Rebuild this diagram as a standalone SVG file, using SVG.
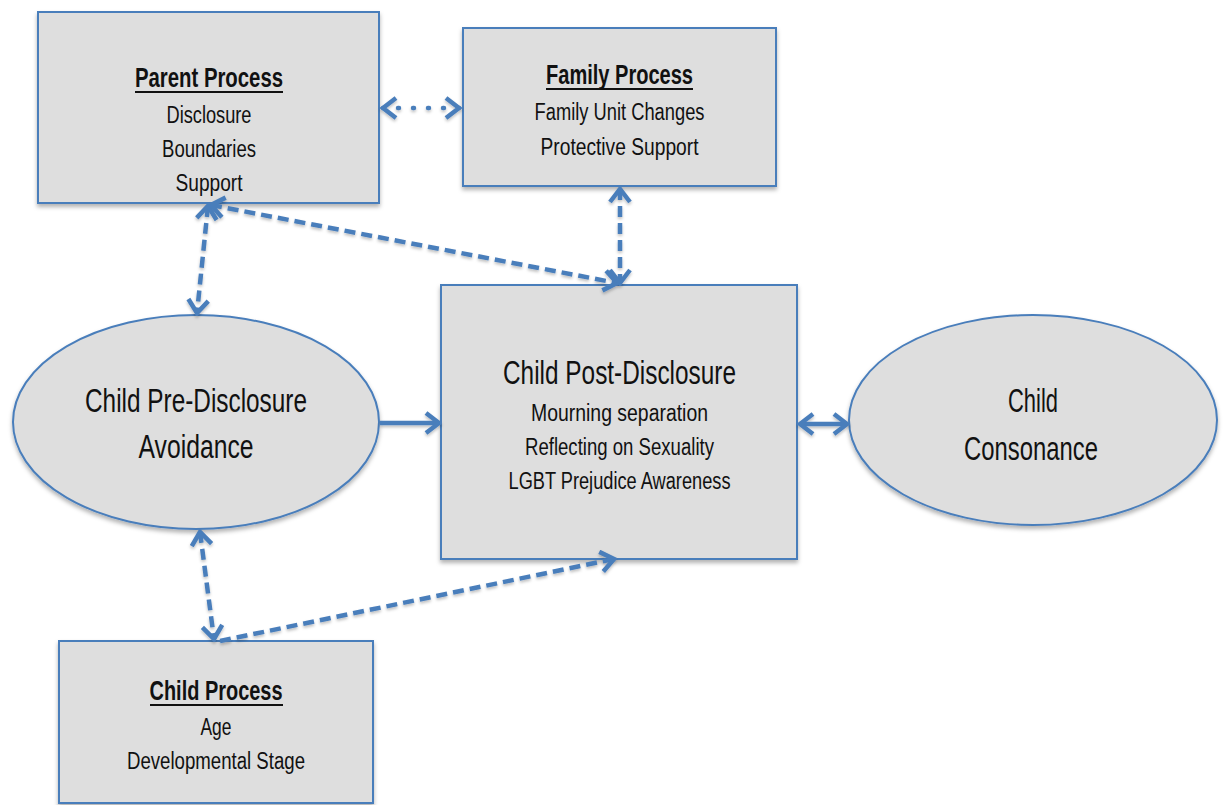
<svg xmlns="http://www.w3.org/2000/svg" width="1223" height="805" viewBox="0 0 1223 805">
<style>
.node{fill:#dedede;stroke:#4a7ebb;stroke-width:2;filter:url(#sh)}
.t{font-family:"Liberation Sans",Arial,sans-serif;fill:#111;text-anchor:middle}
.h{font-size:27px;font-weight:bold}
.i{font-size:23px}
.b{font-size:33px}
.ul{stroke:#111;stroke-width:1.8}
.c{fill:none;stroke:#4a7ebb;stroke-width:4.5}
.dash{stroke-dasharray:11 6}
.dot{stroke-dasharray:1 14;stroke-linecap:round}
</style>
<defs>
<filter id="sh" x="-10%" y="-10%" width="120%" height="125%">
<feDropShadow dx="0" dy="3" stdDeviation="2" flood-color="#000" flood-opacity="0.3"/>
</filter>
<filter id="sh2" filterUnits="userSpaceOnUse" x="0" y="0" width="1223" height="805">
<feDropShadow dx="0" dy="2" stdDeviation="1.5" flood-color="#000" flood-opacity="0.25"/>
</filter>
<marker id="chev" viewBox="0 0 18 24" refX="15" refY="12" markerWidth="18" markerHeight="24" markerUnits="userSpaceOnUse" orient="auto-start-reverse">
<path d="M2,2 L15,12 L2,22" fill="none" stroke="#4a7ebb" stroke-width="4.5" stroke-linejoin="miter"/>
</marker>
</defs>

<g id="parent-process">
<rect class="node" x="38" y="12" width="341" height="191"/>
<text class="t h" x="209" y="87" textLength="148" lengthAdjust="spacingAndGlyphs">Parent Process</text>
<line class="ul" x1="135" y1="92" x2="283" y2="92"/>
<text class="t i" x="209" y="123" textLength="85" lengthAdjust="spacingAndGlyphs">Disclosure</text>
<text class="t i" x="209" y="157" textLength="94" lengthAdjust="spacingAndGlyphs">Boundaries</text>
<text class="t i" x="209" y="191" textLength="67" lengthAdjust="spacingAndGlyphs">Support</text>
</g>

<g id="family-process">
<rect class="node" x="463" y="28" width="313" height="158"/>
<text class="t h" x="619.5" y="84" textLength="147" lengthAdjust="spacingAndGlyphs">Family Process</text>
<line class="ul" x1="546" y1="89" x2="693" y2="89"/>
<text class="t i" x="619.5" y="120" textLength="170" lengthAdjust="spacingAndGlyphs">Family Unit Changes</text>
<text class="t i" x="619.5" y="155" textLength="158" lengthAdjust="spacingAndGlyphs">Protective Support</text>
</g>

<g id="child-post-disclosure">
<rect class="node" x="441" y="285" width="356" height="274"/>
<text class="t b" x="619.5" y="384" textLength="233" lengthAdjust="spacingAndGlyphs">Child Post-Disclosure</text>
<text class="t i" x="619.5" y="421" textLength="177" lengthAdjust="spacingAndGlyphs">Mourning separation</text>
<text class="t i" x="619.5" y="455" textLength="189" lengthAdjust="spacingAndGlyphs">Reflecting on Sexuality</text>
<text class="t i" x="619.5" y="489" textLength="222" lengthAdjust="spacingAndGlyphs">LGBT Prejudice Awareness</text>
</g>

<g id="child-pre-disclosure">
<ellipse class="node" cx="196" cy="422" rx="183" ry="107"/>
<text class="t b" x="196" y="412" textLength="222" lengthAdjust="spacingAndGlyphs">Child Pre-Disclosure</text>
<text class="t b" x="196" y="458" textLength="115" lengthAdjust="spacingAndGlyphs">Avoidance</text>
</g>

<g id="child-consonance">
<ellipse class="node" cx="1033" cy="420" rx="184" ry="105"/>
<text class="t b" x="1033" y="412" textLength="50" lengthAdjust="spacingAndGlyphs">Child</text>
<text class="t b" x="1031" y="460" textLength="134" lengthAdjust="spacingAndGlyphs">Consonance</text>
</g>

<g id="child-process">
<rect class="node" x="59" y="641" width="314" height="162"/>
<text class="t h" x="216" y="700" textLength="133" lengthAdjust="spacingAndGlyphs">Child Process</text>
<line class="ul" x1="150" y1="705" x2="283" y2="705"/>
<text class="t i" x="216" y="735" textLength="31" lengthAdjust="spacingAndGlyphs">Age</text>
<text class="t i" x="216" y="769" textLength="178" lengthAdjust="spacingAndGlyphs">Developmental Stage</text>
</g>

<g id="connectors" filter="url(#sh2)">
<line class="c dot" x1="383" y1="108" x2="459" y2="108" marker-start="url(#chev)" marker-end="url(#chev)"/>
<line class="c dash" x1="208" y1="206" x2="197" y2="313" marker-start="url(#chev)" marker-end="url(#chev)"/>
<line class="c dash" x1="211" y1="205" x2="617" y2="283" marker-start="url(#chev)" marker-end="url(#chev)"/>
<line class="c dash" x1="620" y1="189" x2="620" y2="283" marker-start="url(#chev)" marker-end="url(#chev)"/>
<line class="c" x1="380" y1="423" x2="439" y2="423" marker-end="url(#chev)"/>
<line class="c" x1="800" y1="424" x2="847" y2="424" marker-start="url(#chev)" marker-end="url(#chev)"/>
<line class="c dash" x1="200" y1="532" x2="214" y2="639" marker-start="url(#chev)" marker-end="url(#chev)"/>
<line class="c dash" x1="220" y1="641" x2="614" y2="559" marker-end="url(#chev)"/>
</g>
</svg>
